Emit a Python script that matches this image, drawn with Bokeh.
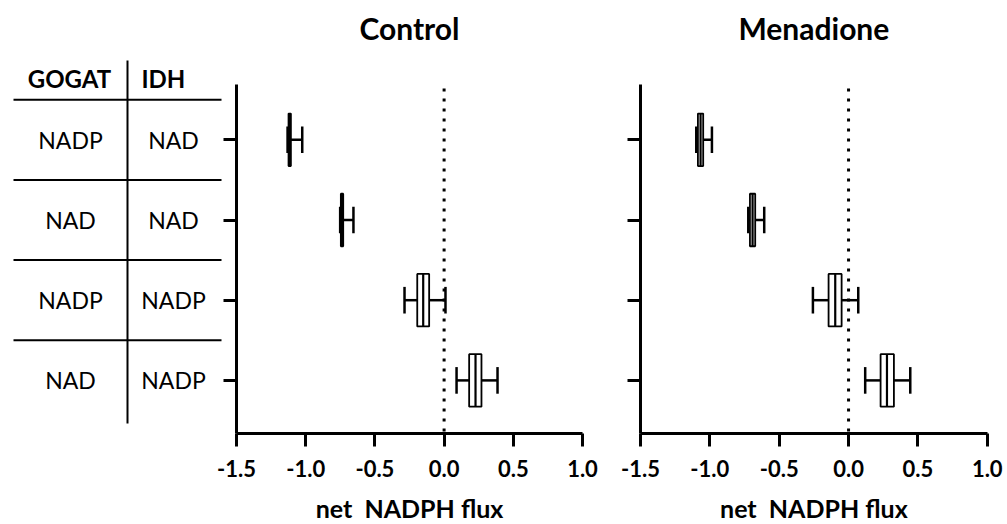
from bokeh.plotting import figure
from bokeh.models import Range1d, LinearAxis, FixedTicker, PrintfTickFormatter
from bokeh.layouts import row
from bokeh.embed import file_html
from bokeh.resources import INLINE
from bokeh.core.properties import value

# ---------------- data ----------------
gogat = ["NADP", "NAD", "NADP", "NAD"]
idh = ["NAD", "NAD", "NADP", "NADP"]
rows = [1, 2, 3, 4]
x_ticks = [-1.5, -1.0, -0.5, 0.0, 0.5, 1.0]

ctrl_low = [-1.131, -0.751, -0.286, 0.090]
ctrl_q1 = [-1.124, -0.746, -0.194, 0.181]
ctrl_med = [-1.115, -0.737, -0.151, 0.227]
ctrl_q3 = [-1.107, -0.729, -0.108, 0.270]
ctrl_high = [-1.025, -0.655, 0.010, 0.386]

mena_low = [-1.098, -0.723, -0.257, 0.120]
mena_q1 = [-1.086, -0.711, -0.144, 0.231]
mena_med = [-1.067, -0.692, -0.096, 0.277]
mena_q3 = [-1.048, -0.673, -0.050, 0.327]
mena_high = [-0.985, -0.608, 0.070, 0.445]

# ---------------- geometry ----------------
H = 524
CAT0 = 139.3      # pixel of first category
CATSTEP = 80.2    # pixels per category
BOX_HALF = 0.327
CAP_HALF = 0.166
FONT = value("Lato")


def ypx(py):
    return 1 + (py - CAT0) / CATSTEP


def make_panel(width, x_left_px, px_per_unit, title, low, q1, med, q3, high,
               with_table):
    def xdat(px):
        return -1.5 + (px - x_left_px) / px_per_unit

    p = figure(width=width, height=H, output_backend="svg", toolbar_location=None,
               x_axis_type=None, y_axis_type=None,
               x_range=Range1d(xdat(0), xdat(width)),
               y_range=Range1d(ypx(H), ypx(0)),
               min_border=0, outline_line_color=None)
    p.extra_x_ranges = {"px": Range1d(0, width)}
    p.extra_y_ranges = {"py": Range1d(H, 0)}
    p.xgrid.visible = False
    p.ygrid.visible = False

    y_top = ypx(84)
    y_bot = ypx(433)

    # x axis
    xa = LinearAxis(ticker=FixedTicker(ticks=x_ticks),
                    formatter=PrintfTickFormatter(format="%.1f"),
                    fixed_location=y_bot, bounds=(-1.5, 1.0))
    xa.axis_line_width = 3
    xa.major_tick_line_width = 3
    xa.major_tick_out = 13
    xa.major_tick_in = 0
    xa.minor_tick_line_color = None
    xa.major_label_text_font = "Lato"
    xa.major_label_text_font_style = "bold"
    xa.major_label_text_font_size = "22px"
    xa.major_label_text_color = "black"
    xa.major_label_standoff = 13
    p.add_layout(xa, "below")

    # y axis (ticks only, no labels)
    ya = LinearAxis(ticker=FixedTicker(ticks=rows), fixed_location=-1.5,
                    bounds=(y_top, y_bot),
                    major_label_overrides={r: "" for r in rows})
    ya.axis_line_width = 3
    ya.major_tick_line_width = 3
    ya.major_tick_out = 13
    ya.major_tick_in = 0
    ya.minor_tick_line_color = None
    ya.major_label_standoff = 0
    p.add_layout(ya, "left")

    # zero reference line
    p.segment(x0=[0], y0=[y_top + 0.05], x1=[0], y1=[y_bot], line_color="black",
              line_width=3, line_dash="3 7")

    # whiskers
    p.segment(x0=low, y0=rows, x1=q1, y1=rows, line_color="black", line_width=2.5)
    p.segment(x0=q3, y0=rows, x1=high, y1=rows, line_color="black", line_width=2.5)
    p.segment(x0=low, y0=[r - CAP_HALF for r in rows], x1=low,
              y1=[r + CAP_HALF for r in rows], line_color="black", line_width=2.5)
    p.segment(x0=high, y0=[r - CAP_HALF for r in rows], x1=high,
              y1=[r + CAP_HALF for r in rows], line_color="black", line_width=2.5)
    # boxes
    p.hbar(y=rows, left=q1, right=q3, height=2 * BOX_HALF, fill_color="white",
           line_color="black", line_width=1.8)
    p.segment(x0=med, y0=[r - BOX_HALF for r in rows], x1=med,
              y1=[r + BOX_HALF for r in rows], line_color="black", line_width=2.2)

    # title and axis label
    cx = x_left_px + 2.5 * px_per_unit / 2
    p.text(x=[cx], y=[27], text=[title], text_font=FONT, text_font_style="bold",
           text_font_size="30px", text_align="center", text_baseline="middle",
           x_range_name="px", y_range_name="py")
    p.text(x=[cx], y=[507], text=["net \u00a0NADPH flux"], text_font=FONT,
           text_font_style="bold", text_font_size="25px", text_align="center",
           text_baseline="middle", x_range_name="px", y_range_name="py")

    if with_table:
        p.segment(x0=[13] * 4, y0=[r - 0.5 for r in rows], x1=[221] * 4,
                  y1=[r - 0.5 for r in rows], line_color="black", line_width=2,
                  x_range_name="px")
        p.segment(x0=[127], y0=[60], x1=[127], y1=[423], line_color="black",
                  line_width=2, x_range_name="px", y_range_name="py")
        p.text(x=[69], y=[78], text=["GOGAT"], text_font=FONT, text_font_style="bold",
               text_font_size="24px", text_align="center", text_baseline="middle",
               x_range_name="px", y_range_name="py")
        p.text(x=[141], y=[78], text=["IDH"], text_font=FONT, text_font_style="bold",
               text_font_size="24px", text_align="left", text_baseline="middle",
               x_range_name="px", y_range_name="py")
        p.text(x=[70] * 4, y=rows, text=gogat, text_font=FONT, text_font_size="23px",
               text_align="center", text_baseline="middle", x_range_name="px")
        p.text(x=[173] * 4, y=rows, text=idh, text_font=FONT, text_font_size="23px",
               text_align="center", text_baseline="middle", x_range_name="px")
    return p


p1 = make_panel(610, 236, 138.4, "Control", ctrl_low, ctrl_q1, ctrl_med,
                ctrl_q3, ctrl_high, True)
p2 = make_panel(397, 30, 138.7, "Menadione", mena_low, mena_q1, mena_med,
                mena_q3, mena_high, False)

layout = row(p1, p2, spacing=0)
open("out.html", "w").write(file_html(layout, INLINE))
